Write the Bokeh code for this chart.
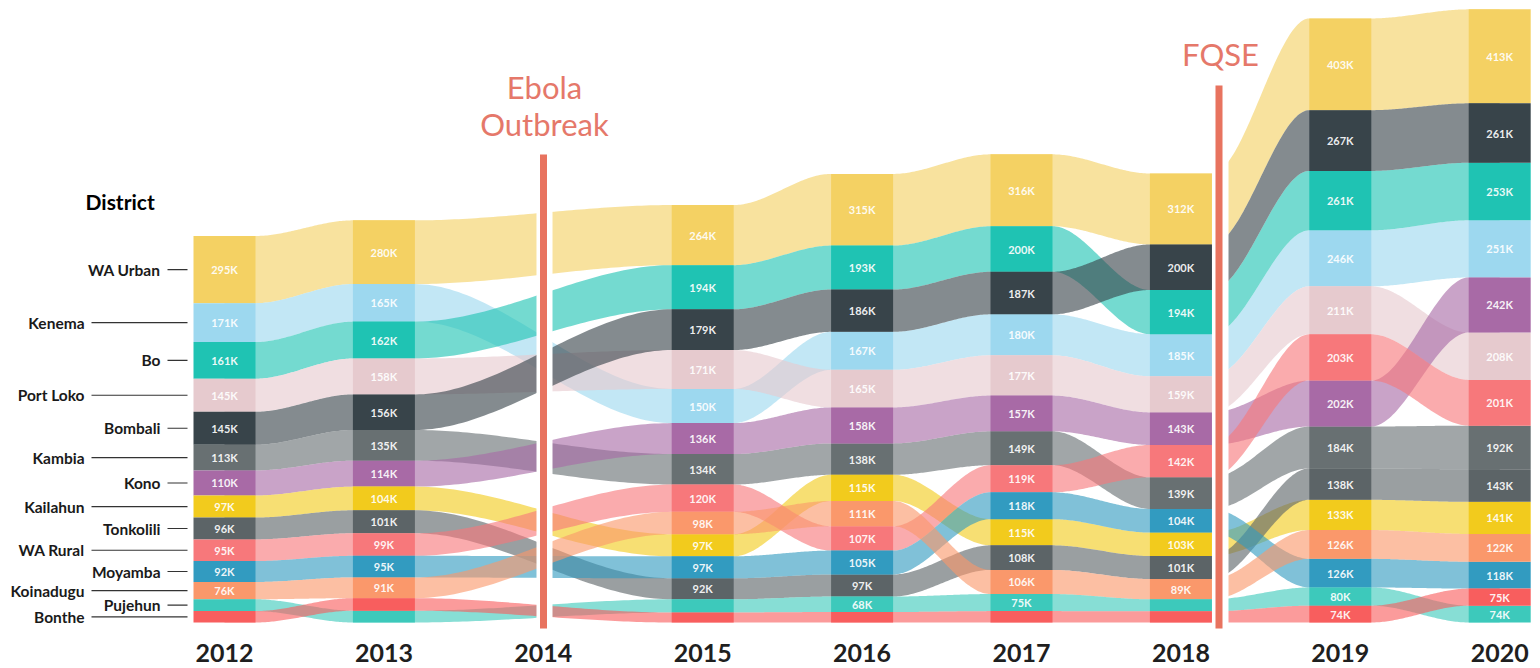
import numpy as np
from bokeh.plotting import figure
from bokeh.models import Range1d
from bokeh.core.properties import value
from bokeh.embed import file_html
from bokeh.resources import INLINE

# ---------------- data ----------------
years = [2012, 2013, 2015, 2016, 2017, 2018, 2019, 2020]
year_ticks = [2012, 2013, 2014, 2015, 2016, 2017, 2018, 2019, 2020]
districts = ["WA Urban", "Kenema", "Bo", "Port Loko", "Bombali", "Kambia", "Kono",
             "Kailahun", "Tonkolili", "WA Rural", "Moyamba", "Koinadugu", "Pujehun", "Bonthe"]

wa_urban  = [295, 280, 264, 315, 316, 312, 403, 413]
kenema    = [171, 165, 150, 167, 180, 185, 246, 251]
bo        = [161, 162, 194, 193, 200, 194, 261, 253]
port_loko = [145.4, 158, 171, 165, 177, 159, 211, 208]
bombali   = [144.8, 156, 179, 186, 187, 200, 267, 261]
kambia    = [113, 135, 134, 138, 149, 139, 184, 192]
kono      = [110, 114, 136, 158, 157, 143, 202, 242]
kailahun  = [97, 104, 97.3, 115, 115, 103, 133, 141]
tonkolili = [96, 101, 92, 97, 108, 101, 138, 143]
wa_rural  = [95, 99, 120, 107, 119, 142, 203, 201]
moyamba   = [92, 95, 96.8, 105, 118, 104, 125.8, 118]
koinadugu = [76, 91, 98, 111, 106, 89, 126.3, 122]
pujehun   = [52, 52, 58, 68, 75, 53, 80, 74]
bonthe    = [50, 55, 44, 46, 50, 49, 74, 75]

colors = ["#F4D163", "#9DD8EF", "#1FC3B3", "#E6CACE", "#38444A", "#687072", "#A86AA6",
          "#F2CB1D", "#5C6467", "#F7787B", "#329BC0", "#FA986B", "#3DC9BB", "#F85E5E"]

series = [wa_urban, kenema, bo, port_loko, bombali, kambia, kono, kailahun,
          tonkolili, wa_rural, moyamba, koinadugu, pujehun, bonthe]

# ---------------- geometry ----------------
W, H = 1540, 668
PXK = 0.2276           # pixels per thousand
PXY = 159.4            # pixels per year
X_2012 = 224           # px of 2012
BASE = 622             # px of zero
HW = 31 / PXY          # bar half width in years

def X(px):
    return 2012 + (px - X_2012) / PXY

def Y(py):
    return (BASE - py) / PXK

p = figure(width=W, height=H,
           x_range=Range1d(X(0), X(W)),
           y_range=Range1d(Y(H), Y(0)),
           output_backend="svg", toolbar_location=None, min_border=0,
           x_axis_location=None, y_axis_location=None)
p.grid.visible = False
p.outline_line_color = None
p.background_fill_color = "white"
p.border_fill_color = "white"

n = len(districts)
ny = len(years)
top = np.zeros((n, ny))
bot = np.zeros((n, ny))
for j in range(ny):
    vals = [series[i][j] for i in range(n)]
    order = sorted(range(n), key=lambda i: (-vals[i], i))
    cur = sum(vals)
    for i in order:
        top[i, j] = cur
        bot[i, j] = cur - vals[i]
        cur -= vals[i]

# ---------------- ribbons ----------------
t = np.linspace(0, 1, 60)
s = t * t * (3 - 2 * t)
rx, ry, rc = [], [], []
for i in range(n):
    for j in range(ny - 1):
        xa, xb = years[j] + HW, years[j + 1] - HW
        xc = xa + (xb - xa) * t
        tc = top[i, j] + (top[i, j + 1] - top[i, j]) * s
        bc = bot[i, j] + (bot[i, j + 1] - bot[i, j]) * s
        xs = [years[j]] + list(xc) + [years[j + 1], years[j + 1]] + list(xc[::-1]) + [years[j]]
        ys = [top[i, j]] + list(tc) + [top[i, j + 1], bot[i, j + 1]] + list(bc[::-1]) + [bot[i, j]]
        rx.append(xs); ry.append(ys); rc.append(colors[i])
p.patches(xs=rx, ys=ry, fill_color=rc, fill_alpha=0.62, line_color=None)

# ---------------- event gaps + lines ----------------
RED = "#E8735F"
p.quad(left=[X(536), X(1211.5)], right=[X(552), X(1228)],
       top=[Y(0), Y(0)], bottom=[Y(640), Y(640)], fill_color="white", line_color=None)
p.quad(left=[X(539.5), X(1215)], right=[X(546.5), X(1222)],
       top=[Y(154), Y(85)], bottom=[Y(628), Y(628)], fill_color=RED, line_color=None)

# ---------------- bars ----------------
bl, br, bt, bb, bcol, lx, ly, lt = [], [], [], [], [], [], [], []
for i in range(n):
    for j in range(ny):
        bl.append(years[j] - HW); br.append(years[j] + HW)
        bt.append(top[i, j]); bb.append(bot[i, j]); bcol.append(colors[i])
        v = series[i][j]
        if v >= 65:
            lx.append(years[j]); ly.append((top[i, j] + bot[i, j]) / 2)
            lt.append(f"{round(v)}K")
p.quad(left=bl, right=br, top=bt, bottom=bb, fill_color=bcol, line_color=None)
p.text(x=lx, y=ly, text=lt, text_color="white", text_alpha=0.92,
       text_align="center", text_baseline="middle",
       text_font=value("Lato"), text_font_style="bold", text_font_size="11px")

# ---------------- district labels ----------------
dl_x, dl_y, dl_t, seg_x0, seg_x1, seg_y = [], [], [], [], [], []
for i in range(n):
    yc = (top[i, 0] + bot[i, 0]) / 2
    if i % 2 == 0:
        dl_x.append(X(160)); seg_x0.append(X(167))
    else:
        dl_x.append(X(84)); seg_x0.append(X(91))
    seg_x1.append(X(187)); dl_y.append(yc); seg_y.append(yc); dl_t.append(districts[i])
p.segment(x0=seg_x0, x1=seg_x1, y0=seg_y, y1=seg_y, line_color="#333333", line_width=1.2)
p.text(x=dl_x, y=dl_y, text=dl_t, text_color="#1a1a1a", text_align="right",
       text_baseline="middle", text_font=value("Lato"), text_font_style="bold",
       text_font_size="15.5px")

p.text(x=[X(85)], y=[Y(201)], text=["District"], text_color="#000000",
       text_align="left", text_baseline="middle", text_font=value("Lato"),
       text_font_style="bold", text_font_size="21px")

# ---------------- year labels ----------------
p.text(x=year_ticks, y=[Y(652)] * len(year_ticks), text=[str(y) for y in year_ticks],
       text_color="#1f1f1f", text_align="center", text_baseline="middle",
       text_font=value("Lato"), text_font_style="bold", text_font_size="25px")

# ---------------- event labels ----------------
p.text(x=[X(544), X(544), X(1220)], y=[Y(86), Y(123), Y(53)],
       text=["Ebola", "Outbreak", "FQSE"], text_color="#E5786A",
       text_align="center", text_baseline="middle", text_font=value("Lato"),
       text_font_size="31px")

open("out.html", "w").write(file_html(p, INLINE))
